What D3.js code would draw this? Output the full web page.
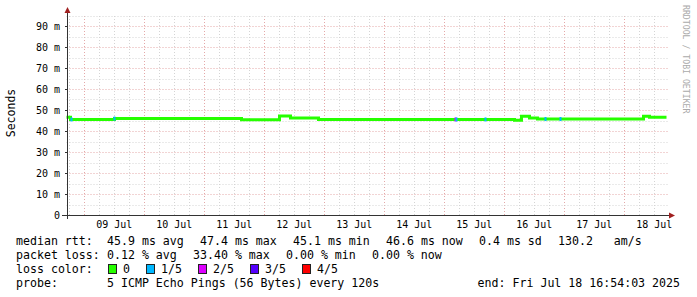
<!DOCTYPE html>
<html lang="en">
<head>
<meta charset="UTF-8">
<title>Smokeping</title>
<script src="https://cdn.jsdelivr.net/npm/d3@7"></script>
<style>
  body { margin: 0; background: #fff; }
  svg text { font-family: "DejaVu Sans Mono", monospace; fill: #000; white-space: pre; }
</style>
</head>
<body>
<svg id="chart" width="697" height="297"></svg>
<script>
// median rtt steps (ms)
var medianTimes = ["2025-07-08 16:54", "2025-07-08 18:30", "2025-07-09 12:06", "2025-07-11 14:54",
                   "2025-07-12 06:06", "2025-07-12 10:30", "2025-07-12 21:42", "2025-07-16 04:06",
                   "2025-07-16 06:54", "2025-07-16 10:06", "2025-07-16 13:18", "2025-07-18 07:42",
                   "2025-07-18 10:06", "2025-07-18 16:54"];
var medianValues = [46.5, 45.5, 45.9, 45.3, 47.2, 46.2, 45.5, 45.1, 47.0, 46.2, 45.7, 47.0, 46.6, 46.6];

// intervals with packet loss (index into lossColors)
var lossTimes = ["2025-07-08 18:54", "2025-07-09 12:06", "2025-07-15 04:30", "2025-07-15 04:54",
                 "2025-07-15 16:30", "2025-07-16 16:30", "2025-07-16 22:30"];
var lossLevels = [1, 1, 2, 1, 1, 1, 1];

var lossLabels = ["0", "1/5", "2/5", "3/5", "4/5"];
var lossColors = ["#26ff00", "#00b8ff", "#dd00ff", "#5500ff", "#ff0000"];

var yTicks = [0, 10, 20, 30, 40, 50, 60, 70, 80, 90];

// legend rows: title + items (rrdtool puts a fixed gap between items)
var rttItems = ["45.9 ms avg", "47.4 ms max", "45.1 ms min", "46.6 ms now", "0.4 ms sd", "130.2   am/s"];
var lossItems = ["0.12 % avg", "33.40 % max", "0.00 % min", "0.00 % now"];
var probeItems = ["5 ICMP Echo Pings (56 Bytes) every 120s"];
var endText = "end: Fri Jul 18 16:54:03 2025";

var parse = d3.timeParse("%Y-%m-%d %H:%M");
var tStart = parse("2025-07-08 16:54"), tEnd = parse("2025-07-18 16:54");

var svg = d3.select("#chart");
var plotL = 66.5, plotR = 666.5, plotB = 215, plotT = 15;
var charW = 7, gap = 16, fs = "11.6px";

var x = d3.scaleTime().domain([tStart, tEnd]).range([plotL, plotR]);
var y = d3.scaleLinear().domain([0, 200 / 2.1]).range([plotB, plotT]);

// grid
var grid = svg.append("g");
var minorX = d3.timeHour.every(6).range(tStart, tEnd);
grid.selectAll(".vx").data(minorX).enter().append("line")
  .attr("x1", function(d) { return Math.round(x(d)) + 0.5; })
  .attr("x2", function(d) { return Math.round(x(d)) + 0.5; })
  .attr("y1", plotB).attr("y2", plotT)
  .attr("stroke", function(d) { return d.getHours() === 0 ? "#e4a8a8" : "#d4d4d4"; })
  .attr("stroke-dasharray", "1,2");
var minorY = d3.range(5, 96, 5);
grid.selectAll(".hy").data(minorY).enter().append("line")
  .attr("y1", function(d) { return Math.round(y(d)) + 0.5; })
  .attr("y2", function(d) { return Math.round(y(d)) + 0.5; })
  .attr("x1", plotL).attr("x2", plotR + 2)
  .attr("stroke", function(d) { return d % 10 === 0 ? "#e4a8a8" : "#d4d4d4"; })
  .attr("stroke-dasharray", "1,2");

// median line, drawn in steps
var med = medianTimes.map(function(t, i) { return { t: parse(t), v: medianValues[i] }; });
var line = d3.line().curve(d3.curveStepAfter)
  .x(function(d) { return x(d.t); })
  .y(function(d) { return y(d.v); });
svg.append("path").datum(med)
  .attr("d", line)
  .attr("fill", "none")
  .attr("stroke", lossColors[0])
  .attr("stroke-width", 3);

// loss marks
var bis = d3.bisector(function(d) { return d.t; }).right;
lossTimes.forEach(function(t, i) {
  var tt = parse(t);
  var v = med[Math.max(0, bis(med, tt) - 1)].v;
  svg.append("rect")
    .attr("x", x(tt) - 1).attr("y", y(v) - 2)
    .attr("width", 2).attr("height", 4)
    .attr("fill", lossColors[lossLevels[i]]);
});

// axes
var axisColor = "#333";
svg.append("line").attr("x1", 62).attr("x2", plotR + 3).attr("y1", plotB + 0.5).attr("y2", plotB + 0.5)
  .attr("stroke", axisColor);
svg.append("line").attr("x1", 67.5).attr("x2", 67.5).attr("y1", plotB + 4).attr("y2", 10)
  .attr("stroke", axisColor);
svg.append("path").attr("d", "M669,212.5L675,215.5L669,218.5Z").attr("fill", "#a02020");
svg.append("path").attr("d", "M64.5,13L67.5,7L70.5,13Z").attr("fill", "#a02020");

// y ticks and labels
svg.selectAll(".yl").data(yTicks).enter().append("text")
  .attr("x", 60).attr("y", function(d) { return y(d) + 3.5; })
  .attr("text-anchor", "end")
  .style("font-size", "10px")
  .text(function(d) { return d === 0 ? "0" : d + " m"; });
svg.selectAll(".yt").data(yTicks).enter().append("line")
  .attr("x1", 65).attr("x2", 67)
  .attr("y1", function(d) { return Math.round(y(d)) + 0.5; })
  .attr("y2", function(d) { return Math.round(y(d)) + 0.5; })
  .attr("stroke", axisColor);

// x labels at noon of each day
var noons = d3.timeDay.range(d3.timeDay.ceil(tStart), tEnd).map(function(d) { return d3.timeHour.offset(d, 12); });
svg.selectAll(".xl").data(noons).enter().append("text")
  .attr("x", function(d) { return x(d); })
  .attr("y", 228)
  .attr("text-anchor", "middle")
  .style("font-size", "10px")
  .text(d3.timeFormat("%d %b"));

// axis titles
svg.append("text")
  .attr("transform", "translate(15,113) rotate(-90)")
  .attr("text-anchor", "middle")
  .style("font-size", "11.5px")
  .text("Seconds");
svg.append("text")
  .attr("transform", "translate(683,5) rotate(90)")
  .attr("text-anchor", "start")
  .style("font-size", "8.2px")
  .style("fill", "#aaa")
  .text("RRDTOOL / TOBI OETIKER");

// legend rows
function legendRow(title, items, yy) {
  svg.append("text").attr("x", 16).attr("y", yy).style("font-size", fs).text(title);
  var cx = 107;
  items.forEach(function(it) {
    svg.append("text").attr("x", cx).attr("y", yy).style("font-size", fs).text(it);
    cx += it.length * charW + gap;
  });
}
legendRow("median rtt:", rttItems, 245);
legendRow("packet loss:", lossItems, 259);
legendRow("loss color:", [], 273);
legendRow("probe:", probeItems, 287);
svg.append("text")
  .attr("x", 680).attr("y", 287)
  .attr("text-anchor", "end")
  .style("font-size", fs)
  .text(endText);

// loss color boxes
var bx = 108;
lossLabels.forEach(function(lbl, i) {
  svg.append("rect")
    .attr("x", bx + 0.5).attr("y", 264.5)
    .attr("width", 8).attr("height", 9)
    .attr("fill", lossColors[i])
    .attr("stroke", "#222");
  svg.append("text")
    .attr("x", bx + 15).attr("y", 273)
    .style("font-size", fs)
    .text(lbl);
  bx += 15 + lbl.length * charW + 16;
});
</script>
</body>
</html>
